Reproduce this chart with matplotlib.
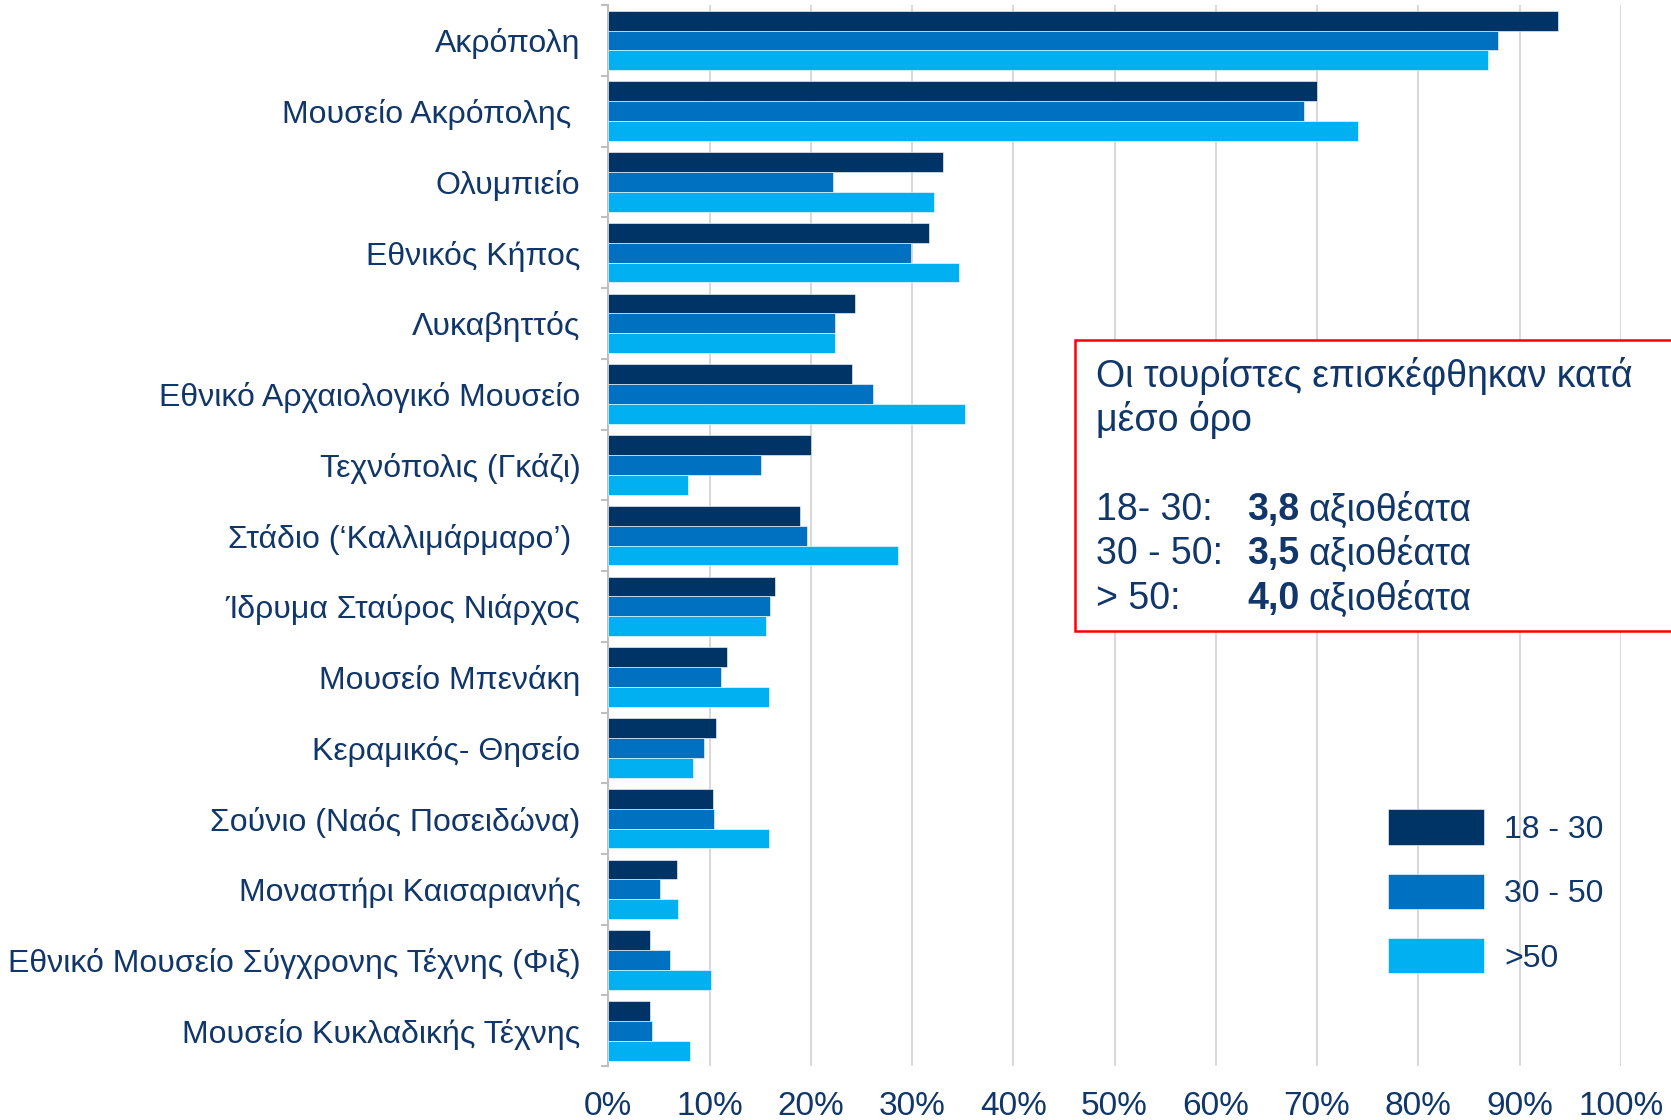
import matplotlib.pyplot as plt
import matplotlib.patches as patches
import numpy as np

plt.rcParams['font.family'] = ['Liberation Sans', 'DejaVu Sans']

categories = ['Ακρόπολη', 'Μουσείο Ακρόπολης ', 'Ολυμπιείο', 'Εθνικός Κήπος',
              'Λυκαβηττός', 'Εθνικό Αρχαιολογικό Μουσείο', 'Τεχνόπολις (Γκάζι)',
              'Στάδιο (‘Καλλιμάρμαρο’) ', 'Ίδρυμα Σταύρος Νιάρχος', 'Μουσείο Μπενάκη',
              'Κεραμικός- Θησείο', 'Σούνιο (Ναός Ποσειδώνα)', 'Μοναστήρι Καισαριανής',
              'Εθνικό Μουσείο Σύγχρονης Τέχνης (Φιξ)', 'Μουσείο Κυκλαδικής Τέχνης']

age_18_30 = [93.8, 70.0, 33.1, 31.7, 24.4, 24.1, 20.0, 18.9, 16.5, 11.7, 10.6, 10.3, 6.8, 4.1, 4.1]
age_30_50 = [87.9, 68.7, 22.2, 29.9, 22.4, 26.1, 15.1, 19.6, 16.0, 11.1, 9.5, 10.4, 5.1, 6.1, 4.3]
age_50 = [86.9, 74.0, 32.2, 34.6, 22.4, 35.2, 7.9, 28.6, 15.6, 15.9, 8.4, 15.9, 6.9, 10.1, 8.1]

series = [('18 - 30', age_18_30, '#003366'),
          ('30 - 50', age_30_50, '#0070c0'),
          ('>50', age_50, '#00b0f0')]

navy = '#10366a'

fig = plt.figure(figsize=(16.71, 11.2), dpi=100)
ax = fig.add_axes([0.364, 0.048, 0.606, 0.9475])

y = np.arange(len(categories))
h = 0.28
for i, (name, vals, col) in enumerate(series):
    ax.barh(y + (i - 1) * h, vals, height=h, color=col, label=name,
            edgecolor='white', linewidth=0.4, zorder=3)

ax.set_xlim(0, 100)
ax.set_ylim(len(categories) - 0.5, -0.5)
ax.set_xticks(np.arange(0, 101, 10))
ax.set_xticklabels([f'{v}%' for v in range(0, 101, 10)])
ax.set_yticks(y)
ax.set_yticklabels(categories)
ax.set_yticks(np.arange(-0.5, len(categories), 1), minor=True)

ax.grid(axis='x', color='#d9d9d9', linewidth=1.5, zorder=0)
for s in ['top', 'right', 'bottom']:
    ax.spines[s].set_visible(False)
ax.spines['left'].set_color('#bfbfbf')
ax.spines['left'].set_linewidth(1.5)

ax.tick_params(axis='y', which='major', length=0, pad=20, labelsize=23, labelcolor=navy)
ax.tick_params(axis='y', which='minor', length=5, color='#bfbfbf', width=1.5)
ax.tick_params(axis='x', length=0, pad=18, labelsize=24, labelcolor=navy)

leg = ax.legend(loc='upper left', bbox_to_anchor=(0.8212, 0.2915), bbox_transform=fig.transFigure,
                frameon=False, fontsize=23, handlelength=3.0, handleheight=1.32,
                labelspacing=0.91, handletextpad=0.64, borderpad=0)
for t in leg.get_texts():
    t.set_color(navy)

# annotation box (runs off the right edge as in the original)
box = patches.Rectangle((0.6433, 0.4366), 0.40, 0.2598, transform=fig.transFigure,
                        facecolor='white', edgecolor='#ff0000', linewidth=1.8,
                        zorder=5, clip_on=False)
fig.patches.append(box)

fs = 27
fig.text(0.6557, 1 - 376 / 1120, 'Οι τουρίστες επισκέφθηκαν κατά', fontsize=fs,
         color=navy, va='center', zorder=6)
fig.text(0.6557, 1 - 420 / 1120, 'μέσο όρο', fontsize=fs, color=navy, va='center', zorder=6)

rows = [('18- 30:', '3,8'), ('30 - 50:', '3,5'), ('> 50:', '4,0')]
row_y = [510, 554, 599]
for (lab, num), yy in zip(rows, row_y):
    fig.text(0.6557, 1 - yy / 1120, lab, fontsize=fs, color=navy, va='center', zorder=6)
    fig.text(0.7462, 1 - yy / 1120, num, fontsize=fs, color=navy, va='center',
             fontweight='bold', zorder=6)
    fig.text(0.7832, 1 - yy / 1120, 'αξιοθέατα', fontsize=fs, color=navy, va='center', zorder=6)

fig.savefig('out.png', dpi=100)
